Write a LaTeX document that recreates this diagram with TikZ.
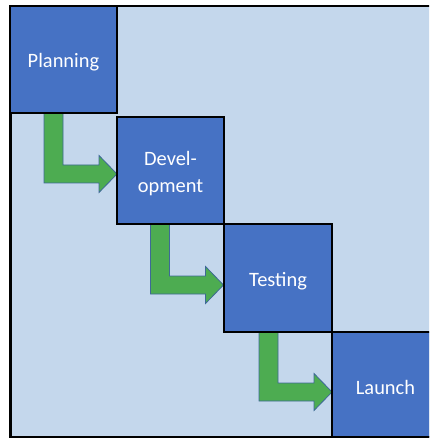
\documentclass[tikz,border=0pt]{standalone}
\usepackage{fontspec}
\setmainfont{Carlito}
\usetikzlibrary{calc}

\definecolor{paneblue}{RGB}{196,215,236}
\definecolor{phaseblue}{RGB}{70,114,196}
\definecolor{arrowgreen}{RGB}{77,172,81}
\definecolor{arrowedge}{RGB}{62,105,150}

\tikzset{
  phase/.style={draw=black, line width=2.2bp, fill=phaseblue,
    minimum width=107bp, minimum height=107bp, inner sep=0pt, outer sep=0pt},
  phasetext/.style={text=white, align=center, inner sep=0pt, yshift=-3bp,
    font=\fontsize{20.5}{26.5}\selectfont},
  blockarrow/.style={draw=arrowedge, line width=0.8bp, fill=arrowgreen, line join=miter},
}

% L-shaped block arrow: leaves the bottom of one phase and points at #1 (the tip)
\newcommand\flowarrow[1]{%
  \draw[blockarrow]
    ($(#1)+(-73,-61)$) -- ($(#1)+(-54,-61)$) -- ($(#1)+(-54,-9)$) --
    ($(#1)+(-18,-9)$) -- ($(#1)+(-18,-18.5)$) -- (#1) --
    ($(#1)+(-18,18.5)$) -- ($(#1)+(-18,9)$) -- ($(#1)+(-73,9)$) -- cycle;}

\begin{document}
\begin{tikzpicture}[x=1bp, y=-1bp]
  \useasboundingbox (0,0) rectangle (429,439);
  \clip (0,0) rectangle (429,439);

  % background pane
  \draw[fill=paneblue, draw=black, line width=2.2bp] (10.5,6) rectangle (445,437);

  % tips of the three arrows, on the left side of the next phase
  \coordinate (tipA) at (117,174);
  \coordinate (tipB) at (223.5,285);
  \coordinate (tipC) at (332,392);

  \flowarrow{tipA}
  \flowarrow{tipB}
  \flowarrow{tipC}

  % the four phases, stepping down to the right
  \node[phase, label={[phasetext]center:Planning}] (plan) at (63.5,59.5) {};
  \node[phase, label={[phasetext]center:Devel-\\opment}] (dev) at (170.5,170.5) {};
  \node[phase, minimum width=108bp, minimum height=108bp,
        label={[phasetext]center:Testing}] (test) at (278,278) {};
  \node[phase, minimum height=105bp,
        label={[phasetext]center:Launch}] (launch) at (385.5,384.5) {};
\end{tikzpicture}
\end{document}
